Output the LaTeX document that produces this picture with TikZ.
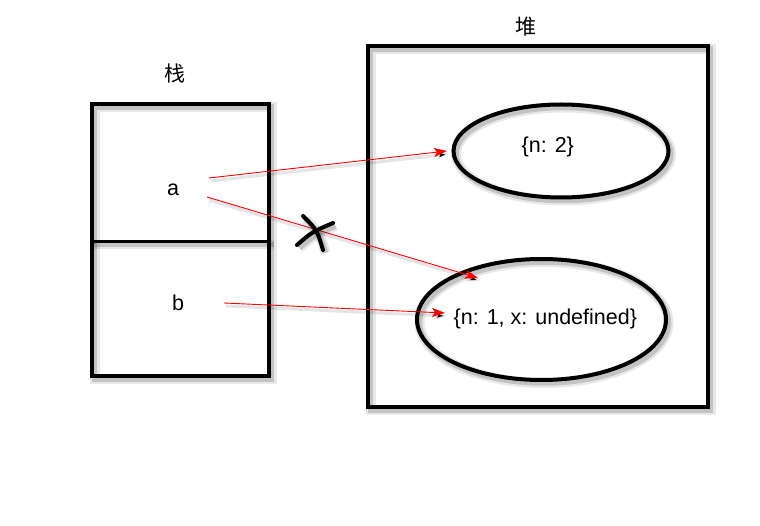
\documentclass[tikz,border=0pt]{standalone}
\usepackage{fontspec}
\setmainfont{Liberation Sans}
\newfontfamily\cjk{Noto Sans CJK SC}
\usetikzlibrary{shapes.geometric,arrows.meta}
\tikzset{
  shad/.style={
    preaction={draw=black,draw opacity=0.09,line width=#1+6pt,transform canvas={shift={(2.5pt,-3pt)}}},
    preaction={draw=black,draw opacity=0.16,line width=#1+1.5pt,transform canvas={shift={(2.5pt,-3pt)}}}},
  box/.style={draw=black,line width=4pt,inner sep=0pt,shad=4pt},
  oval/.style={ellipse,draw=black,line width=4pt,inner sep=0pt,shad=4pt},
  divider/.style={draw=black,line width=3pt,shad=3pt},
  lbl/.style={inner sep=0pt,font=\fontsize{21.5}{25}\selectfont},
  cjklbl/.style={inner sep=0pt,font=\cjk\fontsize{21}{24}\selectfont},
  arr/.style={draw=red,line width=0.9pt,-{Stealth[length=13pt,width=9pt,inset=3pt]},
    preaction={draw=black,draw opacity=0.1,line width=3pt,transform canvas={shift={(2pt,-3pt)}}}},
  xmark/.style={draw=black,line width=4pt,line cap=round,shad=4pt}
}
\begin{document}
\begin{tikzpicture}[x=1pt,y=-1pt]
\useasboundingbox (0,0) rectangle (760,526);
% stack
\node[box,minimum width=177pt,minimum height=272pt] (stack) at (180.5,240) {};
\coordinate (divy) at (0,241.5);
\draw[divider] (stack.west |- divy) -- (stack.east |- divy);
\node[cjklbl] (stacklbl) at (175,74) {栈};
\node[lbl,anchor=base] (a) at (173,196) {a};
\node[lbl,anchor=base] (b) at (178,311) {b};
% heap
\node[box,minimum width=340pt,minimum height=361pt] (heap) at (538,226.5) {};
\node[cjklbl] (heaplbl) at (526,27) {堆};
\node[oval,minimum width=215pt,minimum height=93pt] (obj2) at (561,151) {};
\node[oval,minimum width=249pt,minimum height=121pt] (obj1) at (541.5,319.5) {};
\node[lbl,anchor=base west] (t2) at (521.5,153) {\{n: 2\}};
\node[lbl,anchor=base west] (t1) at (453.5,325) {\{n: 1, x: undefined\}};
% connectors
\coordinate (as1) at (209,178);
\coordinate (ae1) at (447,151);
\coordinate (as2) at (207,197);
\coordinate (ae2) at (478,278);
\coordinate (bs) at (224,303);
\coordinate (be) at (445,313);
\draw[arr] (as1) -- (ae1);
\draw[arr] (as2) -- (ae2);
\draw[arr] (bs) -- (be);
% cross mark
\coordinate (x1s) at (303,216);
\coordinate (x1c) at (317,230);
\coordinate (x1e) at (323,250);
\coordinate (x2s) at (333,223);
\coordinate (x2c) at (312,232);
\coordinate (x2e) at (297,245);
\draw[xmark] (x1s) .. controls (x1c) .. (x1e);
\draw[xmark] (x2s) .. controls (x2c) .. (x2e);
\end{tikzpicture}
\end{document}
